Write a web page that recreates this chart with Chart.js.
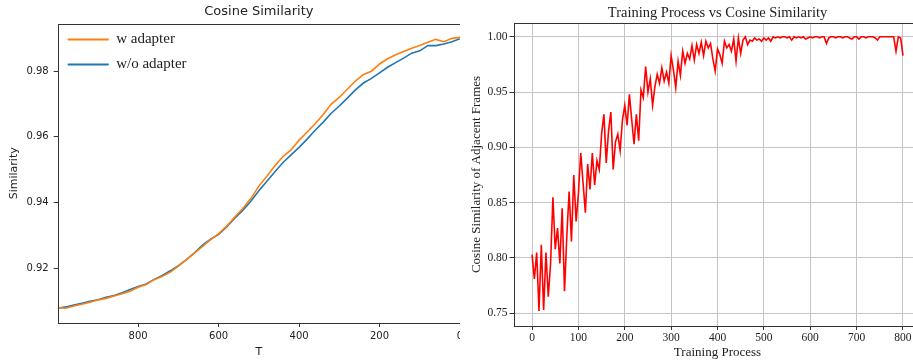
<!DOCTYPE html>
<html>
<head>
<meta charset="utf-8">
<script src="https://cdn.jsdelivr.net/npm/chart.js@4.4.1/dist/chart.umd.min.js"></script>
<style>
  body { margin: 0; background: #fff; width: 913px; height: 364px; overflow: hidden; position: relative; }
  .pane { position: absolute; top: 0; height: 364px; overflow: hidden; }
  #leftPane { left: 0; width: 460px; }
  #rightPane { left: 460px; width: 453px; }
  canvas { display: block; }
</style>
</head>
<body>
<div class="pane" id="leftPane"><canvas id="leftChart" width="470" height="364"></canvas></div>
<div class="pane" id="rightPane"><canvas id="rightChart" width="476" height="364"></canvas></div>
<script>
// left panel: T goes 1000 -> 0 in steps of 20
const tStart = 1000;
const tStep = 20;
const wAdapter = [
  0.9080, 0.9078, 0.9085, 0.9090, 0.9096, 0.9103, 0.9108, 0.9115, 0.9122, 0.9130,
  0.9142, 0.9150, 0.9165, 0.9175, 0.9188, 0.9206, 0.9226, 0.9246, 0.9266, 0.9287,
  0.9305, 0.9328, 0.9356, 0.9382, 0.9412, 0.9450, 0.9480, 0.9512, 0.9540, 0.9560,
  0.9590, 0.9615, 0.9640, 0.9668, 0.9700, 0.9720, 0.9745, 0.9770, 0.9790, 0.9800,
  0.9822, 0.9838, 0.9850, 0.9860, 0.9870, 0.9878, 0.9888, 0.9897, 0.9890, 0.9900,
  0.9903
];
const woAdapter = [
  0.9078, 0.9082, 0.9088, 0.9093, 0.9099, 0.9104, 0.9111, 0.9117, 0.9125, 0.9135,
  0.9144, 0.9152, 0.9166, 0.9178, 0.9192, 0.9208, 0.9226, 0.9247, 0.9270, 0.9288,
  0.9303, 0.9326, 0.9352, 0.9376, 0.9404, 0.9436, 0.9465, 0.9494, 0.9522, 0.9545,
  0.9568, 0.9593, 0.9620, 0.9645, 0.9672, 0.9694, 0.9718, 0.9743, 0.9764, 0.9778,
  0.9795, 0.9812, 0.9826, 0.9840, 0.9855, 0.9862, 0.9878, 0.9878, 0.9883, 0.9890,
  0.9899
];
const tTicks = [800, 600, 400, 200, 0];
const simTicks = [0.92, 0.94, 0.96, 0.98];

// right panel: training process 0 -> 800 in steps of 5
const trainStep = 5;
const cosSim = [
  0.803, 0.781, 0.805, 0.752, 0.812, 0.753, 0.805, 0.765, 0.795, 0.855,
  0.808, 0.827, 0.795, 0.845, 0.770, 0.820, 0.860, 0.815, 0.875, 0.833,
  0.858, 0.895, 0.868, 0.841, 0.885, 0.862, 0.895, 0.866, 0.888, 0.880,
  0.912, 0.930, 0.886, 0.915, 0.932, 0.880, 0.905, 0.912, 0.897, 0.925,
  0.938, 0.920, 0.948, 0.925, 0.903, 0.930, 0.906, 0.952, 0.945, 0.973,
  0.950, 0.962, 0.938, 0.955, 0.966, 0.958, 0.972, 0.960, 0.968, 0.958,
  0.983, 0.970, 0.954, 0.978, 0.965, 0.987, 0.976, 0.985, 0.980, 0.992,
  0.979, 0.993, 0.985, 0.995, 0.983, 0.996, 0.990, 0.994, 0.980, 0.969,
  0.989, 0.984, 0.976, 0.996, 0.990, 0.993, 0.987, 0.998, 0.978, 0.999,
  0.985, 0.997, 1.000, 0.993, 0.997, 0.996, 0.999, 0.997, 0.998, 0.996,
  0.999, 0.997, 0.999, 0.996, 1.000, 0.999, 1.000, 0.999, 1.000, 1.000,
  0.999, 1.000, 0.997, 1.000, 0.999, 1.000, 0.999, 1.000, 0.998, 0.999,
  1.000, 0.999, 1.000, 1.000, 0.999, 1.000, 1.000, 0.994, 0.999, 1.000,
  1.000, 0.999, 1.000, 1.000, 0.999, 1.000, 1.000, 0.999, 0.998, 1.000,
  1.000, 0.998, 1.000, 1.000, 0.999, 1.000, 1.000, 1.000, 0.999, 0.997,
  1.000, 1.000, 1.000, 1.000, 1.000, 1.000, 1.000, 0.987, 1.000, 0.999,
  0.983
];
const trainTicks = [0, 100, 200, 300, 400, 500, 600, 700, 800];
const cosTicks = [0.75, 0.80, 0.85, 0.90, 0.95, 1.00];

// box around the plot area, like matplotlib spines
let framePlugin = {
  id: "frame",
  afterDatasetsDraw: (chart) => {
    let a = chart.chartArea;
    let ctx = chart.ctx;
    ctx.save();
    ctx.strokeStyle = "#333";
    ctx.lineWidth = 1;
    ctx.strokeRect(Math.round(a.left) + 0.5, Math.round(a.top) + 0.5,
      Math.round(a.right - a.left), Math.round(a.bottom - a.top));
    ctx.restore();
  }
};

let SetTicks = (list) => (scale) => {
  scale.ticks = list.map((v) => ({ value: v }));
};

let sans = "'DejaVu Sans'";
let serif = "'Liberation Serif', 'Times New Roman', serif";

new Chart(document.getElementById("leftChart"), {
  type: "line",
  data: {
    datasets: [
      {
        label: "w adapter",
        data: wAdapter.map((v, i) => ({ x: tStart - i * tStep, y: v })),
        borderColor: "#ff7f0e",
        backgroundColor: "#ff7f0e",
        borderWidth: 1.6,
        pointRadius: 0,
        tension: 0,
      },
      {
        label: "w/o adapter",
        data: woAdapter.map((v, i) => ({ x: tStart - i * tStep, y: v })),
        borderColor: "#1f77b4",
        backgroundColor: "#1f77b4",
        borderWidth: 1.6,
        pointRadius: 0,
        tension: 0,
      },
    ],
  },
  options: {
    responsive: false,
    animation: false,
    layout: { padding: { left: 0, top: 0, right: 10, bottom: 0 } },
    plugins: {
      title: {
        display: true,
        text: "Cosine Similarity",
        fullSize: false,
        color: "#222",
        font: { family: sans, size: 13, weight: "normal" },
        padding: { top: 4, bottom: 4 },
      },
      legend: {
        position: "chartArea",
        align: "start",
        // empty title only pushes the entries down into the plot area
        title: { display: true, text: "", font: { size: 10 }, padding: { top: 10, bottom: 0 } },
        labels: {
          color: "#222",
          font: { family: serif, size: 15 },
          boxWidth: 41,
          boxHeight: 2,
          padding: 10,
          generateLabels: (chart) => {
            let items = Chart.defaults.plugins.legend.labels.generateLabels(chart);
            for (let it of items) {
              it.lineWidth = 0;
              it.fillStyle = it.strokeStyle;
            }
            return items;
          },
        },
      },
      tooltip: { enabled: false },
    },
    scales: {
      x: {
        type: "linear",
        reverse: true,
        min: 0,
        max: 1000,
        afterBuildTicks: SetTicks(tTicks),
        afterFit: (scale) => { scale.height = 41; },
        grid: { drawOnChartArea: false, tickLength: 4, tickColor: "#333" },
        border: { display: false },
        ticks: { color: "#222", font: { family: sans, size: 10 }, padding: 3, maxRotation: 0 },
        title: { display: true, text: "T", color: "#222", font: { family: sans, size: 11 }, padding: { top: 0, bottom: 5.5 } },
      },
      y: {
        min: 0.9033,
        max: 0.9945,
        afterBuildTicks: SetTicks(simTicks),
        afterFit: (scale) => { scale.width = 57.7; },
        grid: { drawOnChartArea: false, tickLength: 4, tickColor: "#333" },
        border: { display: false },
        ticks: { color: "#222", font: { family: sans, size: 10 }, padding: 5, callback: (v) => v.toFixed(2) },
        title: { display: true, text: "Similarity", color: "#222", font: { family: sans, size: 11 }, padding: { top: 7.5, bottom: 0 } },
      },
    },
  },
  plugins: [framePlugin],
});

new Chart(document.getElementById("rightChart"), {
  type: "line",
  data: {
    datasets: [
      {
        label: "cosine similarity",
        data: cosSim.map((v, i) => ({ x: i * trainStep, y: v })),
        borderColor: "#ff0000",
        backgroundColor: "#ff0000",
        borderWidth: 1.6,
        pointRadius: 0,
        tension: 0,
      },
    ],
  },
  options: {
    responsive: false,
    animation: false,
    layout: { padding: { left: 0, top: 0, right: 14.5, bottom: 0 } },
    plugins: {
      title: {
        display: true,
        text: "Training Process vs Cosine Similarity",
        fullSize: false,
        color: "#222",
        font: { family: serif, size: 14.5, weight: "normal" },
        padding: { top: 4, bottom: 1.6 },
      },
      legend: { display: false },
      tooltip: { enabled: false },
    },
    scales: {
      x: {
        type: "linear",
        min: -40,
        max: 840,
        afterBuildTicks: SetTicks(trainTicks),
        afterFit: (scale) => { scale.height = 38; },
        grid: { color: "#c4c4c4", lineWidth: 1, tickLength: 4, tickColor: "#333" },
        border: { display: false },
        ticks: { color: "#222", font: { family: serif, size: 11.5 }, padding: 1, maxRotation: 0 },
        title: { display: true, text: "Training Process", color: "#222", font: { family: serif, size: 13 }, padding: { top: 0, bottom: 4 } },
      },
      y: {
        min: 0.7385,
        max: 1.0125,
        afterBuildTicks: SetTicks(cosTicks),
        afterFit: (scale) => { scale.width = 53.5; },
        grid: { color: "#c4c4c4", lineWidth: 1, tickLength: 4, tickColor: "#333" },
        border: { display: false },
        ticks: { color: "#222", font: { family: serif, size: 11.5 }, padding: 2, callback: (v) => v.toFixed(2) },
        title: { display: true, text: "Cosine Similarity of Adjacent Frames", color: "#222", font: { family: serif, size: 13 }, padding: { top: 9, bottom: 0 } },
      },
    },
  },
  plugins: [framePlugin],
});
</script>
</body>
</html>
